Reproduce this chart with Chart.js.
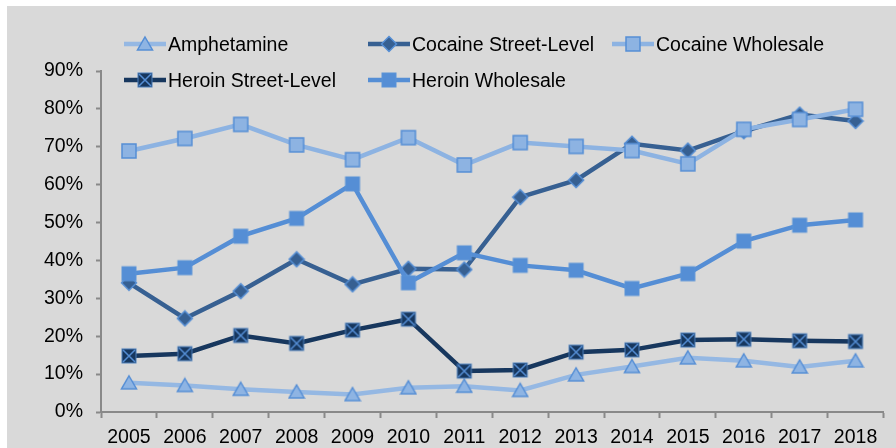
<!DOCTYPE html>
<html lang="en">
<head>
    <meta charset="UTF-8">
    <title>Drug Price Trends</title>
    <script src="https://cdn.jsdelivr.net/npm/chart.js"></script>
    <style>
        body { margin: 0; background: #ffffff; }
        .box {
            position: absolute;
            left: 7px;
            top: 6px;
            width: 889px;
            height: 442px;
            background: #d9d9d9;
        }
    </style>
</head>
<body>
    <div class="box">
        <canvas id="trendChart" width="889" height="442"></canvas>
    </div>

    <script>
        const years = ['2005', '2006', '2007', '2008', '2009', '2010', '2011',
                       '2012', '2013', '2014', '2015', '2016', '2017', '2018'];
        const amphetamine = [7.7, 7.0, 6.0, 5.3, 4.6, 6.4, 6.8, 5.7, 9.8, 12.0, 14.3, 13.5, 11.9, 13.5];
        const cocaineStreet = [34.1, 24.7, 31.9, 40.3, 33.7, 37.8, 37.6, 56.7, 61.2, 70.8, 69.0, 74.1, 78.5, 76.8];
        const cocaineWholesale = [68.9, 72.2, 75.9, 70.5, 66.6, 72.4, 65.2, 71.1, 70.1, 69.0, 65.5, 74.6, 77.2, 79.9];
        const heroinStreet = [14.8, 15.4, 20.2, 18.1, 21.6, 24.5, 10.8, 11.1, 15.8, 16.4, 19.0, 19.2, 18.8, 18.6];
        const heroinWholesale = [36.5, 38.1, 46.4, 51.1, 60.2, 34.1, 42.0, 38.7, 37.4, 32.6, 36.5, 45.1, 49.3, 50.7];
        const yTicks = [0, 10, 20, 30, 40, 50, 60, 70, 80, 90];

        const FONT = '"Liberation Sans", Arial, sans-serif';

        // little offscreen canvases used as point markers (and reused in the legend)
        function makeMarker(draw) {
            const c = document.createElement('canvas');
            c.width = 18;
            c.height = 18;
            const ctx = c.getContext('2d');
            draw(ctx);
            return c;
        }

        const triangleMarker = makeMarker(ctx => {
            ctx.beginPath();
            ctx.moveTo(9, 2);
            ctx.lineTo(16.5, 15);
            ctx.lineTo(1.5, 15);
            ctx.closePath();
            ctx.fillStyle = '#8eb4e3';
            ctx.fill();
            ctx.strokeStyle = '#558ed5';
            ctx.lineWidth = 1.5;
            ctx.stroke();
        });

        const diamondMarker = makeMarker(ctx => {
            ctx.beginPath();
            ctx.moveTo(9, 1.5);
            ctx.lineTo(16.5, 9);
            ctx.lineTo(9, 16.5);
            ctx.lineTo(1.5, 9);
            ctx.closePath();
            ctx.fillStyle = '#376092';
            ctx.fill();
            ctx.strokeStyle = '#558ed5';
            ctx.lineWidth = 1.5;
            ctx.stroke();
        });

        const lightSquareMarker = makeMarker(ctx => {
            ctx.fillStyle = '#8db3e2';
            ctx.fillRect(2, 2, 14, 14);
            ctx.strokeStyle = '#558ed5';
            ctx.lineWidth = 1.5;
            ctx.strokeRect(2, 2, 14, 14);
        });

        const crossSquareMarker = makeMarker(ctx => {
            ctx.fillStyle = '#17375e';
            ctx.fillRect(2, 2, 14, 14);
            ctx.strokeStyle = '#4a7ebb';
            ctx.lineWidth = 1;
            ctx.strokeRect(2, 2, 14, 14);
            ctx.beginPath();
            ctx.moveTo(3, 3);
            ctx.lineTo(15, 15);
            ctx.moveTo(15, 3);
            ctx.lineTo(3, 15);
            ctx.strokeStyle = '#558ed5';
            ctx.lineWidth = 1.5;
            ctx.stroke();
        });

        const solidSquareMarker = makeMarker(ctx => {
            ctx.fillStyle = '#558ed5';
            ctx.fillRect(2, 2, 14, 14);
            ctx.strokeStyle = '#5b93d8';
            ctx.lineWidth = 1;
            ctx.strokeRect(2, 2, 14, 14);
        });

        const series = [
            { label: 'Amphetamine', data: amphetamine, color: '#95b8e3', marker: triangleMarker },
            { label: 'Cocaine Street-Level', data: cocaineStreet, color: '#376092', marker: diamondMarker },
            { label: 'Cocaine Wholesale', data: cocaineWholesale, color: '#8db3e2', marker: lightSquareMarker },
            { label: 'Heroin Street-Level', data: heroinStreet, color: '#17375e', marker: crossSquareMarker },
            { label: 'Heroin Wholesale', data: heroinWholesale, color: '#558ed5', marker: solidSquareMarker }
        ];

        // two-row legend laid out on fixed columns
        const legendCols = [117, 361, 605];
        const legendRows = [38, 74];
        const gridLegend = {
            id: 'gridLegend',
            afterDraw(chart) {
                const ctx = chart.ctx;
                ctx.save();
                ctx.font = '19.5px ' + FONT;
                ctx.textBaseline = 'middle';
                ctx.fillStyle = '#000000';
                series.forEach((s, i) => {
                    const x = legendCols[i % 3];
                    const y = legendRows[Math.floor(i / 3)];
                    ctx.beginPath();
                    ctx.moveTo(x, y);
                    ctx.lineTo(x + 42, y);
                    ctx.strokeStyle = s.color;
                    ctx.lineWidth = 4.5;
                    ctx.stroke();
                    ctx.drawImage(s.marker, x + 21 - 9, y - 9);
                    ctx.fillText(s.label, x + 44, y + 1.5);
                });
                ctx.restore();
            }
        };

        const ctx = document.getElementById('trendChart').getContext('2d');
        new Chart(ctx, {
            type: 'line',
            data: {
                labels: years,
                datasets: series.map((s, i) => ({
                    label: s.label,
                    data: s.data,
                    borderColor: s.color,
                    borderWidth: 4.5,
                    pointStyle: s.marker,
                    pointRadius: 8,
                    tension: 0,
                    order: series.length - i
                }))
            },
            options: {
                responsive: false,
                animation: false,
                layout: { padding: { top: 65, right: 10, left: 0, bottom: 0 } },
                plugins: {
                    legend: { display: false },
                    tooltip: { enabled: false }
                },
                scales: {
                    x: {
                        offset: true,
                        grid: {
                            offset: true,
                            drawOnChartArea: false,
                            drawTicks: true,
                            tickLength: 6,
                            tickColor: '#898989',
                            tickWidth: 2
                        },
                        border: { color: '#898989', width: 2 },
                        ticks: {
                            color: '#000000',
                            padding: 8,
                            maxRotation: 0,
                            font: { family: FONT, size: 19.5 }
                        },
                        afterFit(scale) { scale.height = 36; }
                    },
                    y: {
                        min: 0,
                        max: 90,
                        afterBuildTicks(scale) {
                            scale.ticks = yTicks.map(v => ({ value: v }));
                        },
                        grid: {
                            drawOnChartArea: false,
                            drawTicks: true,
                            tickLength: 5,
                            tickColor: '#898989',
                            tickWidth: 2
                        },
                        border: { color: '#898989', width: 2 },
                        ticks: {
                            color: '#000000',
                            padding: 13,
                            font: { family: FONT, size: 19.5 },
                            callback: v => v + '%'
                        },
                        afterFit(scale) { scale.width = 94; }
                    }
                }
            },
            plugins: [gridLegend]
        });
    </script>
</body>
</html>
